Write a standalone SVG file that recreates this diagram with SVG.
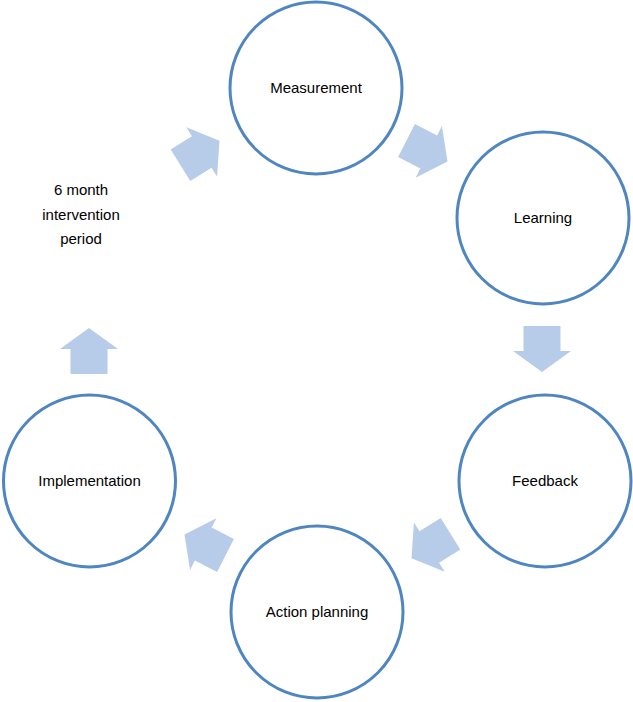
<svg xmlns="http://www.w3.org/2000/svg" width="633" height="702" viewBox="0 0 633 702">
<style>
.node{fill:#fff;stroke:#4f86c0;stroke-width:3}
.lbl{font-family:"Liberation Sans",Arial,sans-serif;font-size:15px;fill:#000;text-anchor:middle}
.arr{fill:#b7cce9}
</style>
<defs>
<path id="ar" d="M-23,-18.5 L2,-18.5 L2,-29 L23,0 L2,29 L2,18.5 L-23,18.5 Z"/>
</defs>
<rect width="633" height="702" fill="#fff"/>
<g id="connectors">
<use href="#ar" class="arr" transform="translate(200,153) rotate(-32)"/>
<use href="#ar" class="arr" transform="translate(427,151) rotate(27)"/>
<use href="#ar" class="arr" transform="translate(542,349) rotate(90)"/>
<use href="#ar" class="arr" transform="translate(431,546) rotate(148)"/>
<use href="#ar" class="arr" transform="translate(205,545) rotate(207)"/>
<use href="#ar" class="arr" transform="translate(89,351) rotate(-90)"/>
</g>
<g id="measurement"><circle class="node" cx="316" cy="88" r="86"/><text class="lbl" x="316" y="93">Measurement</text></g>
<g id="learning"><circle class="node" cx="543" cy="218" r="86"/><text class="lbl" x="543" y="223">Learning</text></g>
<g id="feedback"><circle class="node" cx="545" cy="481" r="86"/><text class="lbl" x="545" y="486">Feedback</text></g>
<g id="action-planning"><circle class="node" cx="317" cy="612" r="86"/><text class="lbl" x="317" y="617">Action planning</text></g>
<g id="implementation"><circle class="node" cx="89.5" cy="481" r="86"/><text class="lbl" x="89.5" y="486">Implementation</text></g>
<g id="period-label"><text class="lbl" x="81" y="195">6 month</text><text class="lbl" x="81" y="220">intervention</text><text class="lbl" x="81" y="244">period</text></g>
</svg>
